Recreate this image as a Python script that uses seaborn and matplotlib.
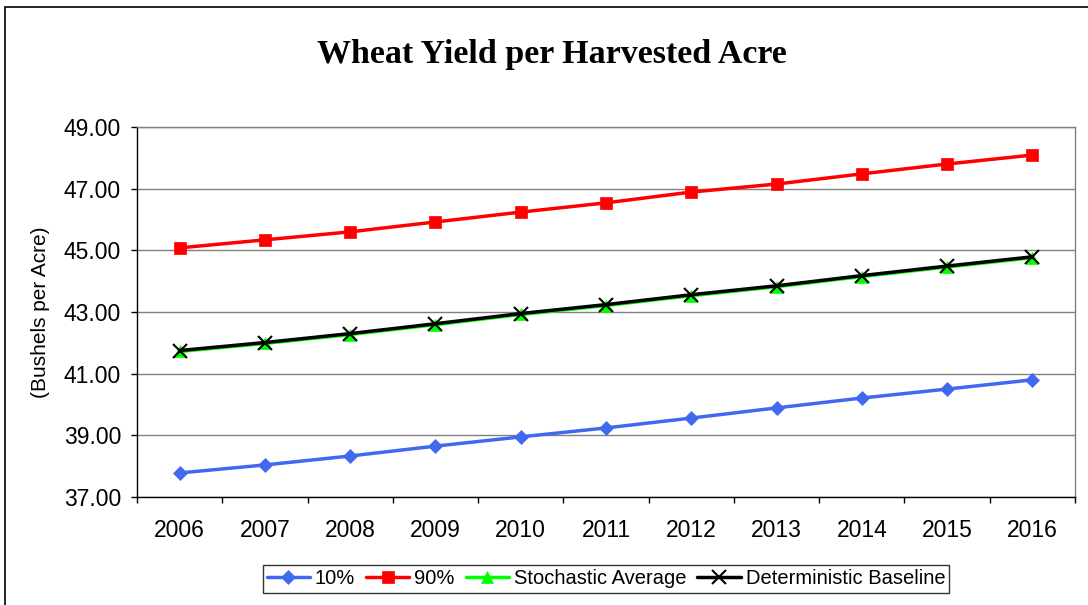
import matplotlib
matplotlib.use("Agg")
import matplotlib.pyplot as plt
import seaborn as sns
import pandas as pd
from matplotlib.patches import Rectangle

years = ["2006", "2007", "2008", "2009", "2010", "2011", "2012", "2013", "2014", "2015", "2016"]
p10 = [37.78, 38.04, 38.33, 38.65, 38.95, 39.24, 39.56, 39.89, 40.21, 40.50, 40.80]
p90 = [45.08, 45.34, 45.60, 45.92, 46.24, 46.54, 46.89, 47.15, 47.48, 47.80, 48.09]
stoch = [41.72, 41.98, 42.27, 42.59, 42.92, 43.21, 43.53, 43.82, 44.15, 44.46, 44.76]
determ = [41.75, 42.01, 42.30, 42.62, 42.95, 43.24, 43.56, 43.85, 44.18, 44.49, 44.79]
series_names = ["10%", "90%", "Stochastic Average", "Deterministic Baseline"]
yticks = [37, 39, 41, 43, 45, 47, 49]

sns.set_theme(style="white")
plt.rcParams["font.family"] = ["Liberation Sans", "DejaVu Sans"]
plt.rcParams["text.color"] = "black"
plt.rcParams["xtick.color"] = "black"
plt.rcParams["ytick.color"] = "black"
plt.rcParams["axes.labelcolor"] = "black"

rows = []
for name, vals in zip(series_names, [p10, p90, stoch, determ]):
    for i, (y, v) in enumerate(zip(years, vals)):
        rows.append({"idx": i, "year": y, "value": v, "series": name})
df = pd.DataFrame(rows)

fig = plt.figure(figsize=(10.88, 6.05), dpi=100)
ax = fig.add_axes([137/1088, 1-497/605, (1075-137)/1088, (497-127)/605])

palette = {"10%": "#4169F0", "90%": "#FF0000", "Stochastic Average": "#00FF00", "Deterministic Baseline": "#000000"}
markers = {"10%": "D", "90%": "s", "Stochastic Average": "^", "Deterministic Baseline": "x"}
sizes = {"10%": 7, "90%": 9, "Stochastic Average": 9, "Deterministic Baseline": 10}

for name in series_names:
    sub = df[df.series == name]
    sns.lineplot(data=sub, x="idx", y="value", ax=ax, color=palette[name], linewidth=2.5,
                 marker=markers[name], markersize=sizes[name], markeredgecolor=palette[name],
                 markeredgewidth=1.5 if name == "Deterministic Baseline" else 0.5, label=name, legend=False)

ax.set_xlim(-0.5, len(years) - 0.5)
ax.set_ylim(37, 49)
ax.set_yticks(yticks)
ax.set_yticklabels([f"{v:.2f}" for v in yticks], fontsize=16.5)
ax.set_xticks(range(len(years)))
ax.set_xticklabels(years, fontsize=16.5)
ax.set_xticks([i - 0.5 for i in range(len(years) + 1)], minor=True)
ax.tick_params(axis="x", which="major", length=0, pad=16)
ax.tick_params(axis="x", which="minor", length=4.5, width=1, color="black", direction="out", bottom=True)
ax.tick_params(axis="y", length=4.5, width=1, color="black", direction="out", left=True, pad=7)
ax.grid(axis="y", color="#808080", linewidth=1)
ax.grid(axis="x", visible=False)
ax.set_xlabel("")
ax.set_ylabel("(Bushels per Acre)", fontsize=15)
ax.yaxis.set_label_coords((50-137)/938, 0.5)
for s in ["left", "bottom"]:
    ax.spines[s].set_color("black")
    ax.spines[s].set_linewidth(1)
for s in ["right", "top"]:
    ax.spines[s].set_color("#808080")
    ax.spines[s].set_linewidth(1)

fig.text(552/1088, 1-55/605, "Wheat Yield per Harvested Acre", ha="center", va="center",
         fontsize=24.5, fontweight="bold", family="Liberation Serif", color="black")

handles, labels = ax.get_legend_handles_labels()
leg = fig.legend(handles, labels, loc="center", bbox_to_anchor=(606/1088, 1-579/605), ncol=4,
                 frameon=True, fontsize=14.5, handlelength=2.14, columnspacing=0.55, handletextpad=0.25,
                 borderpad=0.2, fancybox=False)
leg.get_frame().set_edgecolor("black")
leg.get_frame().set_linewidth(1)

fig.patches.append(Rectangle((5/1088, -0.1), 1.2, 1 - 7/605 + 0.1, transform=fig.transFigure,
                             fill=False, edgecolor="black", linewidth=1.2))

fig.savefig("out.png", dpi=100)
